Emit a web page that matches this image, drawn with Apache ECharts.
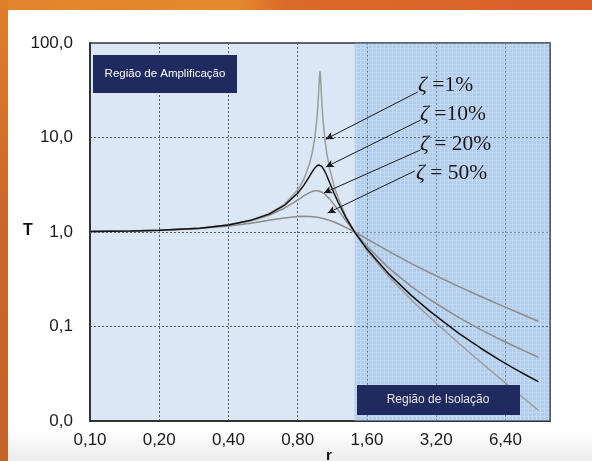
<!DOCTYPE html>
<html>
<head>
<meta charset="utf-8">
<script src="https://cdn.jsdelivr.net/npm/echarts@6/dist/echarts.min.js"></script>
<style>
html,body{margin:0;padding:0;}
body{width:592px;height:461px;overflow:hidden;position:relative;
 background:linear-gradient(to bottom,#ffffff 0%,#ffffff 93%,#ececec 100%);}
#top{position:absolute;left:0;top:0;width:592px;height:10px;
 background:linear-gradient(to right,#e3842c 0%,#e48a2c 40%,#dc6a2a 48%,#d8602a 100%);}
#left{position:absolute;left:0;top:0;width:8px;height:461px;
 background:linear-gradient(to bottom,#df7f2c 0%,#c9662a 50%,#c4622a 100%);}
#chart{position:absolute;left:0;top:0;width:592px;height:461px;}
</style>
</head>
<body>
<div id="top"></div>
<div id="left"></div>
<div id="chart"></div>
<script>
// Frequency ratio r
const rValues = [0.1,0.15,0.2,0.3,0.4,0.5,0.6,0.7,0.8,0.85,0.9,0.93,0.95,0.97,0.98,0.99,0.995,1.0,1.005,1.01,1.02,1.03,1.05,1.07,1.1,1.15,1.2,1.3,1.4142,1.6,2,2.5,3,4,5,6,7,8,8.9];
// Transmissibility T for each damping ratio
const t1  = [1.010,1.023,1.0417,1.0989,1.1905,1.3333,1.5623,1.9602,2.7754,3.5974,5.2406,7.334,10.069,16.080,22.636,35.629,44.93,50.01,44.53,35.099,22.100,15.558,9.5597,6.8288,4.7371,3.0937,2.2700,1.4487,1.0,0.64122,0.33357,0.19071,0.12522,0.066879,0.041874,0.028776,0.021036,0.016075,0.012987];
const t10 = [1.010,1.023,1.0416,1.0985,1.1889,1.3282,1.5468,1.9093,2.5707,3.1169,3.8822,4.4246,4.7664,5.0229,5.0962,5.1227,5.1172,5.0990,5.0683,5.0257,4.9076,4.7530,4.3727,3.9570,3.3666,2.5904,2.0519,1.4013,1.0,0.65932,0.35586,0.21200,0.14537,0.085254,0.058874,0.044604,0.035828,0.029940,0.026098];
const t20 = [1.010,1.0229,1.0414,1.0973,1.1843,1.3138,1.5046,1.7849,2.1798,2.4067,2.6110,2.6959,2.7269,2.7330,2.7261,2.7126,2.7034,2.6926,2.6802,2.6663,2.6342,2.5969,2.5088,2.4072,2.2409,1.9593,1.7035,1.3045,1.0,0.70412,0.41246,0.26462,0.19310,0.12508,0.092848,0.074112,0.061837,0.053148,0.047231];
const t50 = [1.010,1.0225,1.0400,1.0896,1.1576,1.2403,1.3293,1.4094,1.4598,1.4678,1.4626,1.4532,1.4443,1.4336,1.4276,1.4211,1.4177,1.4142,1.4106,1.4070,1.3993,1.3913,1.3744,1.3564,1.3275,1.2760,1.2222,1.1144,1.0,0.84434,0.62017,0.46305,0.37012,0.26559,0.20800,0.17129,0.14577,0.12695,0.11378];
const seriesNames = ['ζ = 1%','ζ = 10%','ζ = 20%','ζ = 50%'];
const xTickLabels = ['0,10','0,20','0,40','0,80','1,60','3,20','6,40'];
const yTickLabels = {0.01:'0,0',0.1:'0,1',1:'1,0',10:'10,0',100:'100,0'};
const rMin = 0.1, rMax = 10, tMin = 0.01, tMax = 100;
const isolationStart = 1.4142;
// arrows: [rStart, TStart, rEnd, TEnd]
const arrows = [
  [2.66, 30.3, 1.06, 9.6],
  [2.74, 15.3, 1.06, 4.87],
  [2.74, 7.4, 1.04, 2.59],
  [2.58, 4.42, 1.08, 1.59]
];

const X = r => Math.log2(r / rMin);
const xMaxVal = X(rMax);

// texture for isolation region
const pc = document.createElement('canvas');
pc.width = 4; pc.height = 4;
const pctx = pc.getContext('2d');
pctx.fillStyle = 'rgba(105,160,222,0.36)';
pctx.fillRect(0,0,4,4);
pctx.fillStyle = 'rgba(255,255,255,0.22)';
pctx.fillRect(0,0,4,1);
pctx.fillRect(0,1,1,3);

const chart = echarts.init(document.getElementById('chart'), null, {renderer:'canvas'});
const colors = ['#9c9c9c','#141414','#8c8c8c','#8c8c8c'];
const tSets = [t1,t10,t20,t50];

const series = tSets.map((ts,i)=>({
  name: seriesNames[i],
  type:'line',
  showSymbol:false,
  symbol:'none',
  smooth:false,
  z: i===1?5:3,
  lineStyle:{color:colors[i], width:1.5},
  data: rValues.map((r,j)=>[X(r), ts[j]])
}));

series.push({
  type:'line', data:[], silent:true, z:1,
  markArea:{
    silent:true,
    itemStyle:{color:{image:pc, repeat:'repeat'}},
    data:[[{xAxis:X(isolationStart), yAxis:tMin},{xAxis:xMaxVal, yAxis:tMax}]]
  },
  markLine:{
    silent:true,
    symbol:['none','arrow'],
    symbolSize:[6,8],
    animation:false,
    lineStyle:{color:'#1a1a1a', width:1, type:'solid'},
    label:{show:false},
    data: arrows.map(a=>[{coord:[X(a[0]),a[1]]},{coord:[X(a[2]),a[3]]}])
  }
});

const option = {
  animation:false,
  backgroundColor:'transparent',
  grid:{left:90, top:43, right:42, bottom:40, show:true, backgroundColor:'#dbe7f4', borderColor:'#333', borderWidth:1.5},
  xAxis:{
    type:'value', min:0, max:xMaxVal, interval:1,
    axisLine:{show:true, lineStyle:{color:'#333', width:2}},
    axisTick:{show:false},
    axisLabel:{
      color:'#1a1a1a', fontSize:17, fontFamily:'Liberation Sans, Arial', margin:11,
      formatter:v=>{const i=Math.round(v); return (Math.abs(v-i)<1e-6 && i<xTickLabels.length)? xTickLabels[i] : '';}
    },
    splitLine:{show:true, lineStyle:{color:'#555f6b', width:1, type:[2,2]}}
  },
  yAxis:{
    type:'log', logBase:10, min:tMin, max:tMax,
    axisLine:{show:true, lineStyle:{color:'#333', width:2}},
    axisTick:{show:false},
    minorTick:{show:false},
    axisLabel:{
      color:'#1a1a1a', fontSize:17, fontFamily:'Liberation Sans, Arial', margin:17,
      formatter:v=>{ for (const k in yTickLabels){ if (Math.abs(Math.log10(v)-Math.log10(+k))<1e-6) return yTickLabels[k]; } return ''; }
    },
    splitLine:{show:true, lineStyle:{color:'#555f6b', width:1, type:[2,2]}}
  },
  graphic:[
    {type:'rect', shape:{x:93,y:55,width:144,height:38}, style:{fill:'#1f2a5e'}, z:100},
    {type:'text', x:165, y:74, style:{text:'Região de Amplificação', fill:'#ffffff', font:'11.5px Liberation Sans, Arial', align:'center', verticalAlign:'middle'}, z:101},
    {type:'rect', shape:{x:357,y:385,width:163,height:30}, style:{fill:'#1f2a5e'}, z:100},
    {type:'text', x:438, y:400, style:{text:'Região de Isolação', fill:'#e6e6e6', font:'12px Liberation Sans, Arial', align:'center', verticalAlign:'middle'}, z:101},
    {type:'text', x:418, y:85, style:{text:'{z|ζ} =1%', rich:{z:{font:'italic 22px Liberation Serif'}}, font:'21.5px Liberation Serif', fill:'#1a1a1a', verticalAlign:'middle'}, z:101},
    {type:'text', x:420, y:114, style:{text:'{z|ζ} =10%', rich:{z:{font:'italic 22px Liberation Serif'}}, font:'21.5px Liberation Serif', fill:'#1a1a1a', verticalAlign:'middle'}, z:101},
    {type:'text', x:420, y:144, style:{text:'{z|ζ} = 20%', rich:{z:{font:'italic 22px Liberation Serif'}}, font:'21.5px Liberation Serif', fill:'#1a1a1a', verticalAlign:'middle'}, z:101},
    {type:'text', x:416, y:173, style:{text:'{z|ζ} = 50%', rich:{z:{font:'italic 22px Liberation Serif'}}, font:'21.5px Liberation Serif', fill:'#1a1a1a', verticalAlign:'middle'}, z:101},
    {type:'text', x:28, y:231, style:{text:'T', fill:'#111', font:'bold 16px Liberation Sans, Arial', align:'center', verticalAlign:'middle'}, z:101},
    {type:'text', x:329, y:456, style:{text:'r', fill:'#111', font:'bold 15px Liberation Sans, Arial', align:'center', verticalAlign:'middle'}, z:101}
  ],
  series: series
};
chart.setOption(option);
</script>
</body>
</html>
